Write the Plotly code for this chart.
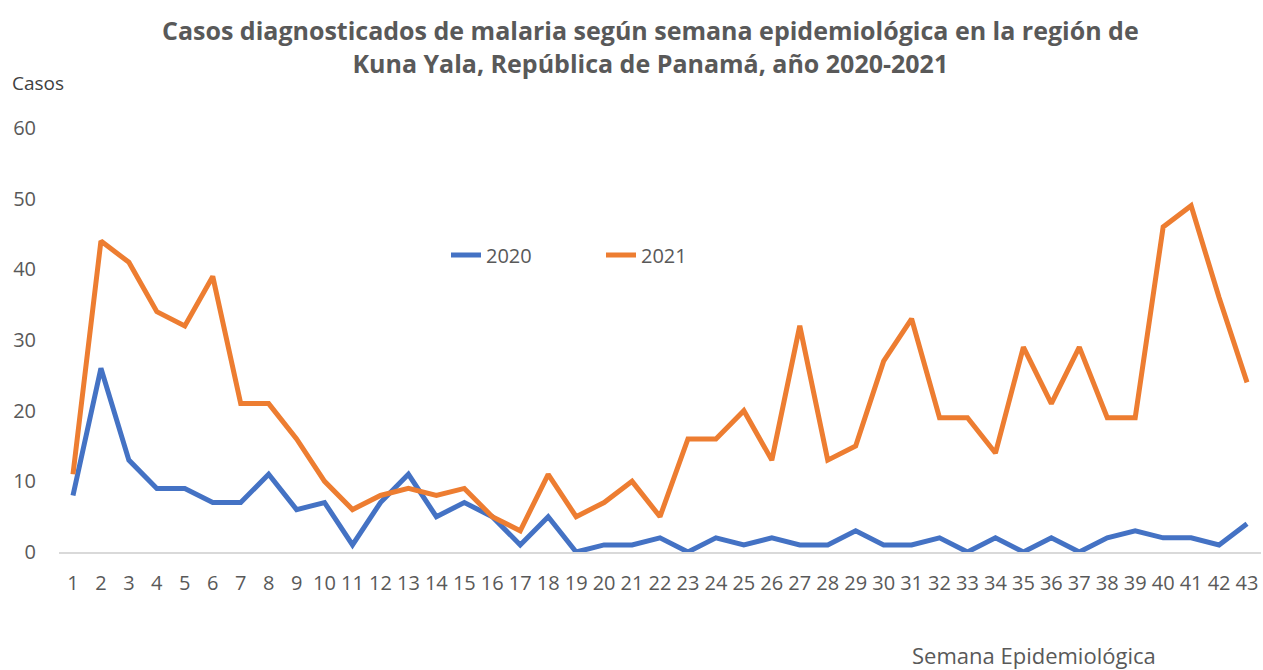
import plotly.graph_objects as go

# Semanas epidemiológicas
semanas = [str(i) for i in range(1, 44)]

casos_2020 = [8, 26, 13, 9, 9, 7, 7, 11, 6, 7, 1, 7, 11, 5, 7, 5, 1, 5, 0, 1, 1,
              2, 0, 2, 1, 2, 1, 1, 3, 1, 1, 2, 0, 2, 0, 2, 0, 2, 3, 2, 2, 1, 4]
casos_2021 = [11, 44, 41, 34, 32, 39, 21, 21, 16, 10, 6, 8, 9, 8, 9, 5, 3, 11, 5, 7, 10,
              5, 16, 16, 20, 13, 32, 13, 15, 27, 33, 19, 19, 14, 29, 21, 29, 19, 19, 46, 49, 36, 24]

y_ticks = [0, 10, 20, 30, 40, 50, 60]

gris = '#595959'
fuente = 'Open Sans'

# área de trazado en píxeles
L, R, T, B = 59, 2, 128, 118
W, H = 1263, 670


def papel(px_x, px_y):
    # convierte píxeles de la imagen a coordenadas de papel
    return (px_x - L) / (W - L - R), (H - B - px_y) / (H - T - B)


fig = go.Figure()
fig.add_trace(go.Scatter(x=semanas, y=casos_2020, name='2020', mode='lines',
                         line=dict(color='#4472C4', width=5)))
fig.add_trace(go.Scatter(x=semanas, y=casos_2021, name='2021', mode='lines',
                         line=dict(color='#ED7D31', width=5)))

textos = [
    ('<b>Casos diagnosticados de malaria según semana epidemiológica en la región de</b>'
     '<br><b>Kuna Yala, República de Panamá, año 2020-2021</b>', 650, 46, 'center', 25, gris),
    ('Casos', 10, 83, 'left', 19, '#404040'),
    ('Semana Epidemiológica', 1034, 655, 'center', 22, gris),
]
anotaciones = []
for txt, ax, ay, anc, size, col in textos:
    xp, yp = papel(ax, ay)
    anotaciones.append(dict(text=txt, x=xp, y=yp, xref='paper', yref='paper',
                            xanchor=anc, yanchor='middle', showarrow=False, align='center',
                            font=dict(size=size, color=col, family=fuente)))

lx, ly = papel(446, 255)
fig.update_layout(
    width=W, height=H,
    margin=dict(l=L, r=R, t=T, b=B),
    paper_bgcolor='white', plot_bgcolor='white',
    font=dict(family=fuente, color=gris, size=20),
    legend=dict(orientation='h', x=lx, y=ly, xanchor='left', yanchor='middle',
                font=dict(size=20, color=gris), bgcolor='rgba(0,0,0,0)',
                entrywidth=110, entrywidthmode='pixels'),
    annotations=anotaciones,
)

fig.update_xaxes(type='category', range=[-0.5, 42.5], showgrid=False, showline=True,
                 linecolor='#d9d9d9', linewidth=1.5, ticks='',
                 tickfont=dict(size=20, color=gris), ticklabelstandoff=12, zeroline=False)
fig.update_yaxes(range=[0, 60], tickvals=y_ticks, showgrid=False, showline=False,
                 zeroline=False, tickfont=dict(size=20, color=gris), ticklabelstandoff=22)

fig.write_html('out.html', config={'displayModeBar': False},
               post_script="document.body.style.margin='0';")
